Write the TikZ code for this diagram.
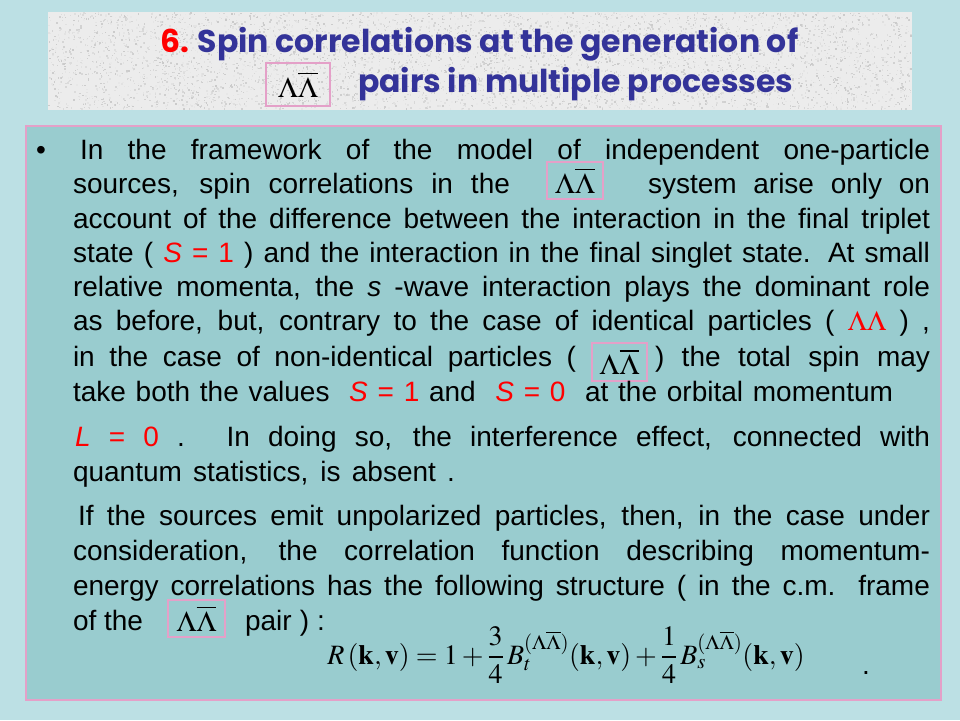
\documentclass[tikz,border=0pt]{standalone}
\usepackage{amsmath}
\usepackage{mathptmx}
\usepackage[no-math]{fontspec}
\setmainfont{Liberation Sans}
\newfontfamily\titlefont{Poppins}
\definecolor{outerbg}{RGB}{188,224,228}
\definecolor{panelbg}{RGB}{153,204,207}
\definecolor{boxpink}{RGB}{228,160,200}
\definecolor{titlebg}{RGB}{236,236,236}
\definecolor{titleblue}{RGB}{51,51,153}
\definecolor{hired}{RGB}{255,0,0}
\newcommand\bodyfont{\fontsize{28}{34}\selectfont}
\newcommand\LLbar{$\Lambda\overline{\Lambda}$}
\newcommand\rS[1]{\textcolor{hired}{\textit{S} = #1}}
\begin{document}
\begin{tikzpicture}[x=1pt,y=-1pt,
  txt/.style={anchor=base west, inner sep=0pt, outer sep=0pt, font=\bodyfont},
  ttl/.style={anchor=base west, inner sep=0pt, outer sep=0pt, text=titleblue, font=\titlefont\bfseries\fontsize{31.5}{36}\selectfont},
  lbox/.style={draw=boxpink, line width=2pt, inner sep=0pt, font=\fontsize{29}{34}\selectfont}]
\useasboundingbox (0,0) rectangle (960,720);
\fill[outerbg] (0,0) rectangle (960,720);
% title strip with speckled texture
\fill[titlebg] (48,12) rectangle (912,110);
\pgfmathsetseed{7}
\foreach \i in {1,...,5500}{
  \pgfmathsetmacro\xx{48+862.5*rnd}
  \pgfmathsetmacro\yy{12+96.5*rnd}
  \pgfmathtruncatemacro\gg{202+32*rnd}
  \definecolor{spk}{RGB}{\gg,\gg,\gg}
  \fill[spk] (\xx,\yy) rectangle ++(1.5,1.5);
}
\node[ttl] (t1) at (160,52) {\textcolor{hired}{6.} Spin correlations at the generation of};
\node[ttl] (t2) at (358,92) {pairs in multiple processes};
\node[lbox, minimum width=64pt, minimum height=43pt] (tb) at (298,84.5) {\LLbar};
% main panel
\draw[boxpink, line width=2pt, fill=panelbg] (26,126) rectangle (941,700);
\node[txt] (bul) at (36,159) {•};
\node[txt] (l1) at (80,159) {\hbox to 850pt{In the framework of the model of independent one-particle}};
\node[txt] (l2a) at (73,193) {\hbox to 437pt{sources, spin correlations in the}};
\node[lbox, minimum width=56pt, minimum height=37pt] (b2) at (575,180.5) {\LLbar};
\node[txt] (l2b) at (648,193) {\hbox to 282pt{system arise only on}};
\node[txt] (l3) at (73,228) {\hbox to 857pt{account of the difference between the interaction in the final triplet}};
\node[txt] (l4) at (73,262) {\hbox to 857pt{state ( \rS{1} ) and the interaction in the final singlet state. At small}};
\node[txt] (l5) at (73,296) {\hbox to 857pt{relative momenta, the \textit{s} -wave interaction plays the dominant role}};
\node[txt] (l6) at (73,330) {\hbox to 857pt{as before, but, contrary to the case of identical particles ( \textcolor{hired}{$\Lambda\Lambda$} ) ,}};
\node[txt] (l7a) at (73,366) {\hbox to 503pt{in the case of non-identical particles (}};
\node[lbox, minimum width=55pt, minimum height=38pt] (b7) at (619.5,362) {\LLbar};
\node[txt] (l7b) at (655,366) {\hbox to 275pt{) the total spin may}};
\node[txt] (l8) at (73,401) {\hbox to 820pt{take both the values \ \rS{1} and \ \rS{0} \ at the orbital momentum}};
\node[txt] (l9) at (75,446) {\hbox to 855pt{\textcolor{hired}{\textit{L} = 0} . In doing so, the interference effect, connected with}};
\node[txt] (l10) at (73,481) {\hbox to 382pt{quantum statistics, is absent .}};
\node[txt] (l11) at (78,525) {\hbox to 852pt{If the sources emit unpolarized particles, then, in the case under}};
\node[txt] (l12) at (73,560) {\hbox to 857pt{consideration, the correlation function describing momentum-}};
\node[txt] (l13) at (73,595) {\hbox to 857pt{energy correlations has the following structure ( in the c.m. frame}};
\node[txt] (l14a) at (73,630) {\hbox to 70pt{of the}};
\node[lbox, minimum width=57pt, minimum height=37pt] (b14) at (196.5,618.5) {\LLbar};
\node[txt] (l14b) at (245,630) {\hbox to 80pt{pair ) :}};
% formula
\node[anchor=base, inner sep=0pt, font=\fontsize{28}{34}\selectfont] (eq) at (566,664)
  {$R\,(\mathbf{k},\mathbf{v})=1+\dfrac{3}{4}\,B_t^{(\Lambda\overline{\Lambda})}(\mathbf{k},\mathbf{v})+\dfrac{1}{4}\,B_s^{(\Lambda\overline{\Lambda})}(\mathbf{k},\mathbf{v})$};
\node[txt] (dot) at (862,674) {.};
\end{tikzpicture}
\end{document}
